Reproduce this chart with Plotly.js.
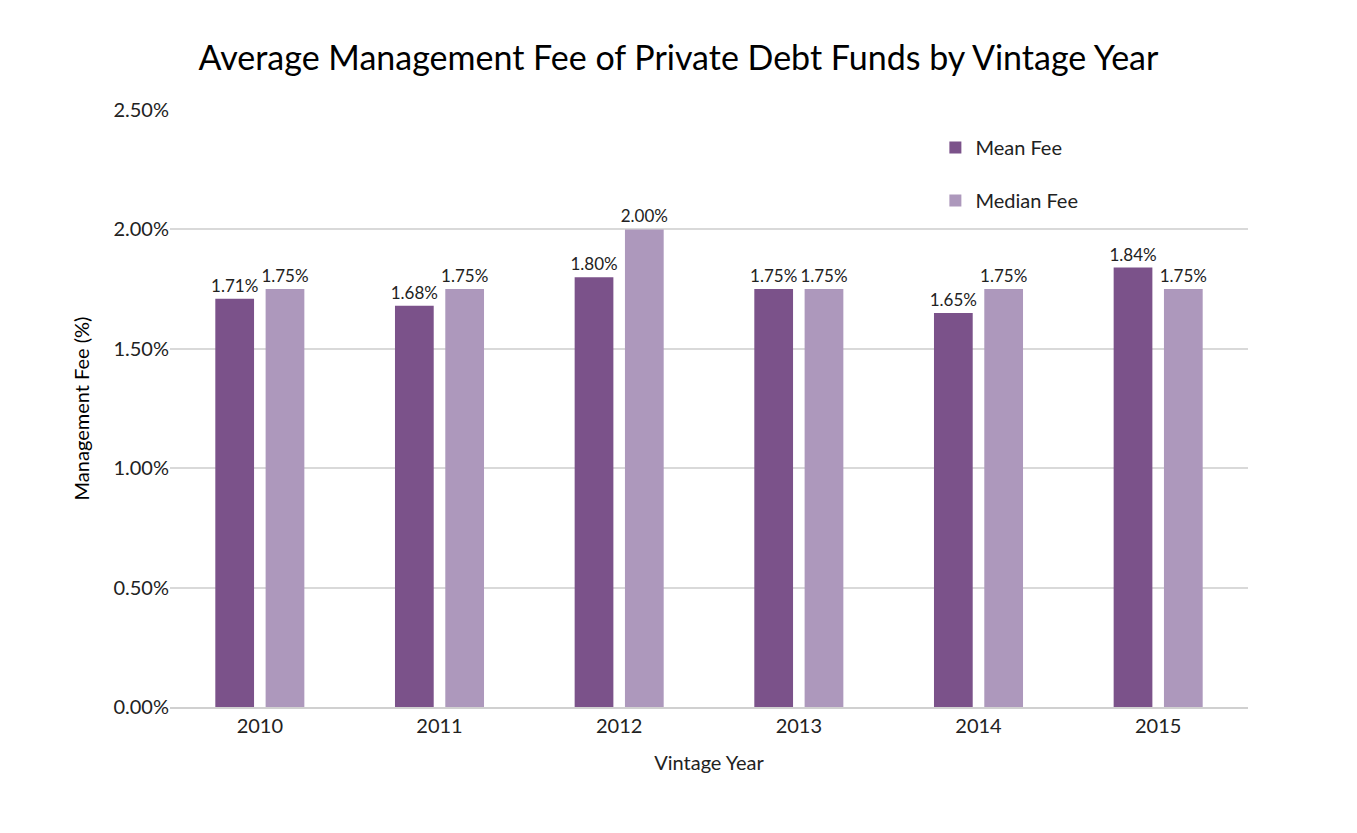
<!DOCTYPE html>
<html>
<head>
<meta charset="utf-8">
<script src="https://cdn.plot.ly/plotly-3.0.1.min.js"></script>
<style>body{margin:0;background:#fff}</style>
</head>
<body>
<div id="chart" style="width:1357px;height:833px"></div>
<script>
// vintage years and fee values (percent)
const years = ['2010', '2011', '2012', '2013', '2014', '2015']
const meanFee = [1.71, 1.68, 1.80, 1.75, 1.65, 1.84]
const medianFee = [1.75, 1.75, 2.00, 1.75, 1.75, 1.75]

function bars(name, vals, color) {
	return {
		type: 'bar',
		name: name,
		legendgroup: name,
		x: years,
		y: vals,
		marker: {color: color},
		text: vals.map(v => v.toFixed(2) + '%'),
		textposition: 'outside',
		constraintext: 'none',
		cliponaxis: false,
		textfont: {size: 17, color: '#222'},
		hoverinfo: 'skip'
	}
}

const data = [
	bars('Mean Fee', meanFee, '#7b528a'),
	bars('Median Fee', medianFee, '#ad98bc')
]

const layout = {
	font: {family: 'Lato, sans-serif', color: '#222'},
	title: {text: 'Average Management Fee of Private Debt Funds by Vintage Year', font: {size: 34, color: '#000'}, x: 0.5, y: 0.945},
	margin: {l: 170, r: 109, t: 110, b: 126},
	barmode: 'group',
	bargap: 0.44,
	bargroupgap: 0.23,
	showlegend: true,
	legend: {x: 0.71, y: 0.97, xanchor: 'left', yanchor: 'top', font: {size: 20}, traceorder: 'grouped', tracegroupgap: 24, bgcolor: 'rgba(0,0,0,0)'},
	xaxis: {
		title: {text: 'Vintage Year', font: {size: 20}, standoff: 20},
		tickfont: {size: 20},
		showline: true, linecolor: '#d0d0d0', linewidth: 2,
		ticks: ''
	},
	yaxis: {
		title: {text: 'Management Fee (%)', font: {size: 20, color: '#000'}, standoff: 18},
		range: [0, 2.5],
		dtick: 0.5,
		tickformat: '.2f',
		ticksuffix: '%',
		tickfont: {size: 20},
		gridcolor: '#d9d9d9', gridwidth: 1.5,
		zeroline: false
	},
	plot_bgcolor: '#fff',
	paper_bgcolor: '#fff'
}

Plotly.newPlot('chart', data, layout, {displayModeBar: false})
</script>
</body>
</html>
